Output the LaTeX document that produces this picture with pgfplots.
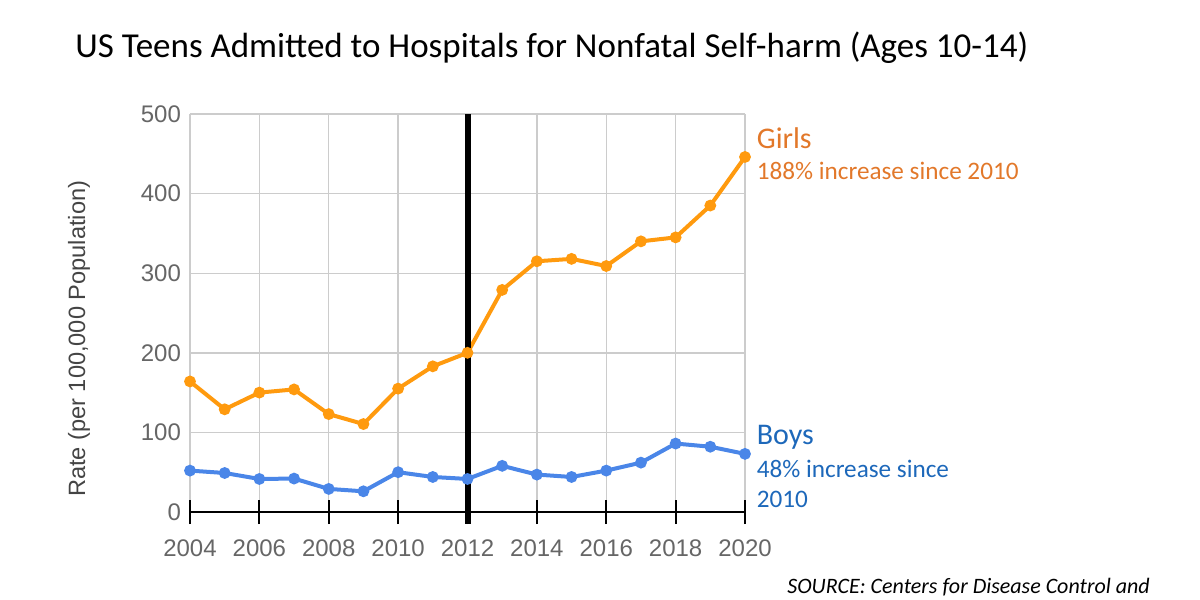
\documentclass[border=0pt]{standalone}
\usepackage{pgfplots}
\pgfplotsset{compat=1.18}
\usepackage{fontspec}
\setmainfont{Carlito}
\newfontfamily\tickfont{Liberation Sans}

\definecolor{girlline}{HTML}{FF9A0E}
\definecolor{boyline}{HTML}{4A86E8}
\definecolor{girltxt}{HTML}{E2782A}
\definecolor{boytxt}{HTML}{1D68BA}
\definecolor{gridc}{HTML}{CCCCCC}
\definecolor{ticktxt}{HTML}{666666}
\definecolor{labtxt}{HTML}{444444}

\pgfplotstableread{
year girls boys
2004 164 52
2005 129 49
2006 150 41.5
2007 154 42
2008 123 29
2009 110.5 26
2010 155 50
2011 183 44
2012 200 41.5
2013 279 58
2014 315 47
2015 318 44
2016 309 52
2017 340 62
2018 345 86
2019 385 82
2020 446 73
}\rates

\begin{document}
\begin{tikzpicture}
% page = 1200x600 px, 1px = 0.5pt
\useasboundingbox (0,0) rectangle (600pt,300pt);

\node[anchor=west, inner sep=0pt, font=\fontsize{17.5}{21}\selectfont] at (37.5pt,276pt)
  {US Teens Admitted to Hospitals for Nonfatal Self-harm (Ages 10-14)};

\begin{axis}[
  at={(95pt,44pt)}, anchor=south west,
  scale only axis, width=277.5pt, height=199pt,
  xmin=2004, xmax=2020, ymin=0, ymax=500,
  xtick={2004,2006,...,2020}, ytick={0,100,...,500},
  xticklabel style={/pgf/number format/1000 sep={}},
  grid=major, grid style={gridc, line width=0.7pt},
  axis line style={draw=none},
  tick pos=left,
  xtick align=center, major tick length=12pt,
  xtick style={black, line width=0.9pt},
  ytick style={draw=none},
  ticklabel style={font=\tickfont\fontsize{12}{14}\selectfont, text=ticktxt},
  /pgf/number format/assume math mode=true,
  yticklabel style={xshift=-1pt},
  xticklabel style={yshift=-4.5pt},
  ylabel={Rate (per 100,000 Population)},
  ylabel style={at={(axis description cs:-0.2,0.435)}, anchor=center,
    font=\tickfont\fontsize{11.8}{14}\selectfont, text=labtxt},
  clip=false,
]
\draw[black, line width=1pt] (axis cs:2004,0) -- (axis cs:2020,0);
\addplot[girlline, line width=2pt, mark=*, mark size=1.9pt,
  mark options={fill=girlline, draw=girlline}] table[x=year, y=girls] {\rates};
\addplot[boyline, line width=2pt, mark=*, mark size=1.9pt,
  mark options={fill=boyline, draw=boyline}] table[x=year, y=boys] {\rates};
\draw[black, line width=3pt] (axis cs:2012,500) -- (axis cs:2012,-15);

\node[anchor=west, text=girltxt, font=\fontsize{15}{17}\selectfont, inner sep=0pt]
  at (axis cs:2020.33,470) {Girls};
\node[anchor=west, text=girltxt, font=\fontsize{12.6}{15}\selectfont, inner sep=0pt]
  at (axis cs:2020.33,428) {188\% increase since 2010};
\node[anchor=west, text=boytxt, font=\fontsize{15}{17}\selectfont, inner sep=0pt]
  at (axis cs:2020.33,94) {Boys};
\node[anchor=west, text=boytxt, font=\fontsize{12.6}{15}\selectfont, inner sep=0pt]
  at (axis cs:2020.33,54) {48\% increase since};
\node[anchor=west, text=boytxt, font=\fontsize{12.6}{15}\selectfont, inner sep=0pt]
  at (axis cs:2020.33,16) {2010};
\end{axis}

\node[anchor=base west, font=\itshape\fontsize{11}{13}\selectfont, inner sep=0pt]
  at (393.5pt,3pt) {SOURCE: Centers for Disease Control and};
\end{tikzpicture}
\end{document}
